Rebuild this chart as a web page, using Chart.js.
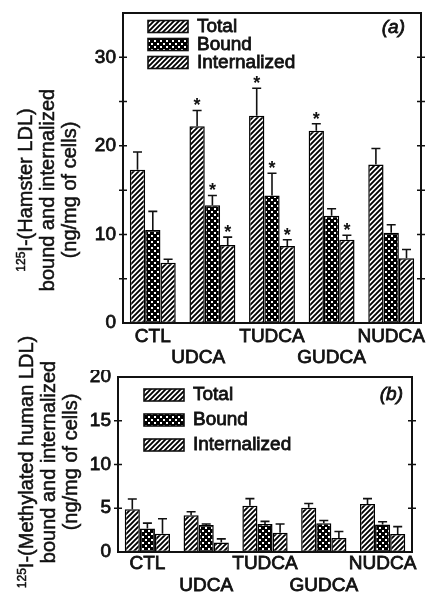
<!DOCTYPE html>
<html><head><meta charset="utf-8">
<script src="https://cdn.jsdelivr.net/npm/chart.js@4/dist/chart.umd.min.js"></script>
<style>
html,body{margin:0;padding:0;background:#fff;}
#wrap{position:relative;width:427px;height:593px;overflow:hidden;background:#fff;}
canvas{position:absolute;left:0;}
.ytitle{position:absolute;width:320px;height:66px;font:20px "Liberation Sans",Arial,sans-serif;line-height:22px;text-align:center;color:#111;transform:rotate(-90deg);white-space:nowrap;-webkit-text-stroke:0.5px #111;}
.ytitle sup{font-size:12px;line-height:0;vertical-align:7px;}
</style></head>
<body><div id="wrap">
<canvas id="ca" width="427" height="370" style="top:0"></canvas>
<canvas id="cb" width="427" height="223" style="top:370px"></canvas>
<div class="ytitle" style="left:-113px;top:157px"><sup>125</sup>I-(Hamster LDL)<br>bound and internalized<br>(ng/mg of cells)</div>
<div class="ytitle" style="left:-112px;top:429px"><sup>125</sup>I-(Methylated human LDL)<br>bound and internalized<br>(ng/mg of cells)</div>
</div>
<script>
// ---- data ----
const categories = ['CTL', 'UDCA', 'TUDCA', 'GUDCA', 'NUDCA'];
const seriesNames = ['Total', 'Bound', 'Internalized'];
// staggered category labels (second row for UDCA / GUDCA)
const xLabelsA = ['CTL', ['', 'UDCA\u2002\u2002\u2002'], 'TUDCA', ['', 'GUDCA'], 'NUDCA'];
const xLabelsB = ['CTL', ['', 'UDCA'], 'TUDCA', ['', 'GUDCA'], 'NUDCA'];

// panel (a): hamster LDL
const hamsterTotal      = [17.3, 22.2, 23.4, 21.7, 17.9];
const hamsterTotalErr   = [19.3, 24.0, 26.5, 22.5, 19.7];   // upper end of error bar
const hamsterBound      = [10.5, 13.3, 14.4, 12.1, 10.2];
const hamsterBoundErr   = [12.6, 14.4, 16.9, 12.9, 11.1];
const hamsterInt        = [6.8, 8.8, 8.7, 9.4, 7.3];
const hamsterIntErr     = [7.2, 9.7, 9.4, 9.9, 8.3];
const hamsterTotalSig   = [false, true, true, true, false];
const hamsterBoundSig   = [false, true, true, false, false];
const hamsterIntSig     = [false, true, true, true, false];

// panel (b): methylated human LDL
const methTotal    = [4.9, 4.2, 5.3, 5.05, 5.5];
const methTotalErr = [6.05, 4.6, 6.1, 5.55, 6.1];
const methBound    = [2.7, 3.1, 3.2, 3.3, 3.15];
const methBoundErr = [3.3, 3.2, 3.5, 3.6, 3.45];
const methInt      = [2.1, 1.1, 2.2, 1.6, 2.05];
const methIntErr   = [3.8, 1.5, 3.2, 2.35, 2.9];
const noSig        = [false, false, false, false, false];

const yMaxA = 35, yMaxB = 20, yStep = 5;
const panelTagA = '(a)', panelTagB = '(b)';

// ---- styling helpers ----
const FONT = '"Liberation Sans", Arial, sans-serif';
const INK = '#111';

function hatchPattern(ctx) {
  const c = document.createElement('canvas'); c.width = 5; c.height = 5;
  const g = c.getContext('2d');
  g.fillStyle = '#fff'; g.fillRect(0, 0, 5, 5);
  g.strokeStyle = '#000'; g.lineWidth = 1.9;
  g.beginPath();
  g.moveTo(-1, 6); g.lineTo(6, -1);
  g.moveTo(-1, 1); g.lineTo(1, -1);
  g.moveTo(4, 6); g.lineTo(6, 4);
  g.stroke();
  return ctx.createPattern(c, 'repeat');
}
function dotPattern(ctx) {
  const c = document.createElement('canvas'); c.width = 6; c.height = 6;
  const g = c.getContext('2d');
  g.fillStyle = '#000'; g.fillRect(0, 0, 6, 6);
  g.fillStyle = '#fff';
  g.fillRect(1, 1, 2, 2); g.fillRect(4, 4, 2, 2);
  return ctx.createPattern(c, 'repeat');
}

const framePlugin = {
  id: 'frame',
  afterDatasetsDraw(chart) {
    const {ctx, chartArea: a, scales: {y}} = chart;
    ctx.save();
    ctx.strokeStyle = INK; ctx.lineWidth = 2;
    ctx.strokeRect(a.left, a.top, a.right - a.left, a.bottom - a.top);
    ctx.lineWidth = 1.5;
    ctx.beginPath();
    for (let v = yStep; v < y.max; v += yStep) {
      const py = y.getPixelForValue(v);
      ctx.moveTo(a.left - 4, py); ctx.lineTo(a.left + 4, py);
      ctx.moveTo(a.right - 4, py); ctx.lineTo(a.right + 4, py);
    }
    ctx.stroke();
    ctx.restore();
  }
};

const errPlugin = {
  id: 'err',
  afterDatasetsDraw(chart) {
    const {ctx, scales: {y}} = chart;
    ctx.save();
    ctx.strokeStyle = INK; ctx.fillStyle = INK; ctx.lineWidth = 1.6;
    ctx.font = 'bold 18px ' + FONT;
    ctx.textAlign = 'center'; ctx.textBaseline = 'alphabetic';
    chart.data.datasets.forEach((ds, i) => {
      const meta = chart.getDatasetMeta(i);
      meta.data.forEach((bar, j) => {
        const yE = y.getPixelForValue(ds.errHigh[j]);
        ctx.beginPath();
        ctx.moveTo(bar.x, bar.y); ctx.lineTo(bar.x, yE);
        ctx.moveTo(bar.x - 4.5, yE); ctx.lineTo(bar.x + 4.5, yE);
        ctx.stroke();
        if (ds.sig[j]) ctx.fillText('*', bar.x, yE + 1);
      });
    });
    ctx.restore();
  }
};

const legendPlugin = {
  id: 'boxlegend',
  afterDraw(chart, args, o) {
    const {ctx, chartArea: a} = chart;
    ctx.save();
    ctx.font = '19px ' + FONT;
    ctx.textBaseline = 'middle'; ctx.textAlign = 'left';
    chart.data.datasets.forEach((ds, i) => {
      const cy = a.top + o.firstRow + i * o.rowStep;
      const bx = a.left + o.boxLeft;
      ctx.fillStyle = ds.backgroundColor;
      ctx.fillRect(bx, cy - 6, 40, 12);
      ctx.strokeStyle = INK; ctx.lineWidth = 1.6;
      ctx.strokeRect(bx, cy - 6, 40, 12);
      ctx.fillStyle = INK; ctx.lineWidth = 0.8;
      ctx.strokeText(ds.label, a.left + o.textLeft, cy);
      ctx.fillText(ds.label, a.left + o.textLeft, cy);
    });
    ctx.font = 'italic 19px ' + FONT;
    ctx.textAlign = 'right'; ctx.lineWidth = 0.8;
    ctx.strokeText(o.tag, a.right - o.tagRight, a.top + o.tagY);
    ctx.fillText(o.tag, a.right - o.tagRight, a.top + o.tagY);
    ctx.restore();
  }
};

function makeChart(id, p) {
  const canvas = document.getElementById(id);
  const ctx = canvas.getContext('2d');
  const hatch = hatchPattern(ctx), dots = dotPattern(ctx);
  const common = {borderColor: '#000', borderWidth: 1.5, borderSkipped: false};
  return new Chart(canvas, {
    type: 'bar',
    data: {
      labels: categories,
      datasets: [
        Object.assign({label: seriesNames[0], data: p.total, errHigh: p.totalErr, sig: p.totalSig, backgroundColor: hatch}, common),
        Object.assign({label: seriesNames[1], data: p.bound, errHigh: p.boundErr, sig: p.boundSig, backgroundColor: dots}, common),
        Object.assign({label: seriesNames[2], data: p.int, errHigh: p.intErr, sig: p.intSig, backgroundColor: hatch}, common)
      ]
    },
    options: {
      responsive: false, animation: false, events: [],
      layout: {padding: {left: 0, right: p.padRight, top: p.padTop, bottom: 0}},
      datasets: {bar: {categoryPercentage: 0.77, barPercentage: 1}},
      plugins: {legend: {display: false}, tooltip: {enabled: false}, boxlegend: p.legend},
      scales: {
        x: {
          grid: {display: false, drawTicks: false}, border: {display: false},
          ticks: {font: {family: FONT, size: 19, lineHeight: p.xLine}, color: INK, padding: p.xPad,
                  textStrokeColor: INK, textStrokeWidth: 0.8,
                  maxRotation: 0, autoSkip: false,
                  callback: (v, i) => p.xLabels[i]},
          afterFit: s => { s.height = p.xHeight; s.paddingLeft = 0; s.paddingRight = 0; }
        },
        y: {
          min: 0, max: p.max,
          grid: {display: false, drawTicks: false}, border: {display: false},
          ticks: {stepSize: yStep, font: {family: FONT, size: 19}, color: INK, padding: p.yPad,
                  textStrokeColor: INK, textStrokeWidth: 0.8,
                  callback: v => (v % p.labelEvery === 0 ? v : '')},
          afterFit: s => { s.width = p.yWidth; s.paddingTop = 0; s.paddingBottom = 0; }
        }
      }
    },
    plugins: [framePlugin, errPlugin, legendPlugin]
  });
}

makeChart('ca', {
  total: hamsterTotal, totalErr: hamsterTotalErr, totalSig: hamsterTotalSig,
  bound: hamsterBound, boundErr: hamsterBoundErr, boundSig: hamsterBoundSig,
  int: hamsterInt, intErr: hamsterIntErr, intSig: hamsterIntSig,
  xLabels: xLabelsA,
  max: yMaxA, labelEvery: 10, yWidth: 123, yPad: 7, padRight: 6, padTop: 13,
  xHeight: 47, xPad: 3, xLine: 1.1,
  legend: {boxLeft: 25, textLeft: 74, firstRow: 13.5, rowStep: 18, tag: panelTagA, tagRight: 16, tagY: 15}
});
makeChart('cb', {
  total: methTotal, totalErr: methTotalErr, totalSig: noSig,
  bound: methBound, boundErr: methBoundErr, boundSig: noSig,
  int: methInt, intErr: methIntErr, intSig: noSig,
  xLabels: xLabelsB,
  max: yMaxB, labelEvery: 5, yWidth: 118, yPad: 7, padRight: 15, padTop: 7,
  xHeight: 41, xPad: 1, xLine: 1.15,
  legend: {boxLeft: 26, textLeft: 75, firstRow: 18, rowStep: 25, tag: panelTagB, tagRight: 9, tagY: 18}
});
</script>
</body></html>
